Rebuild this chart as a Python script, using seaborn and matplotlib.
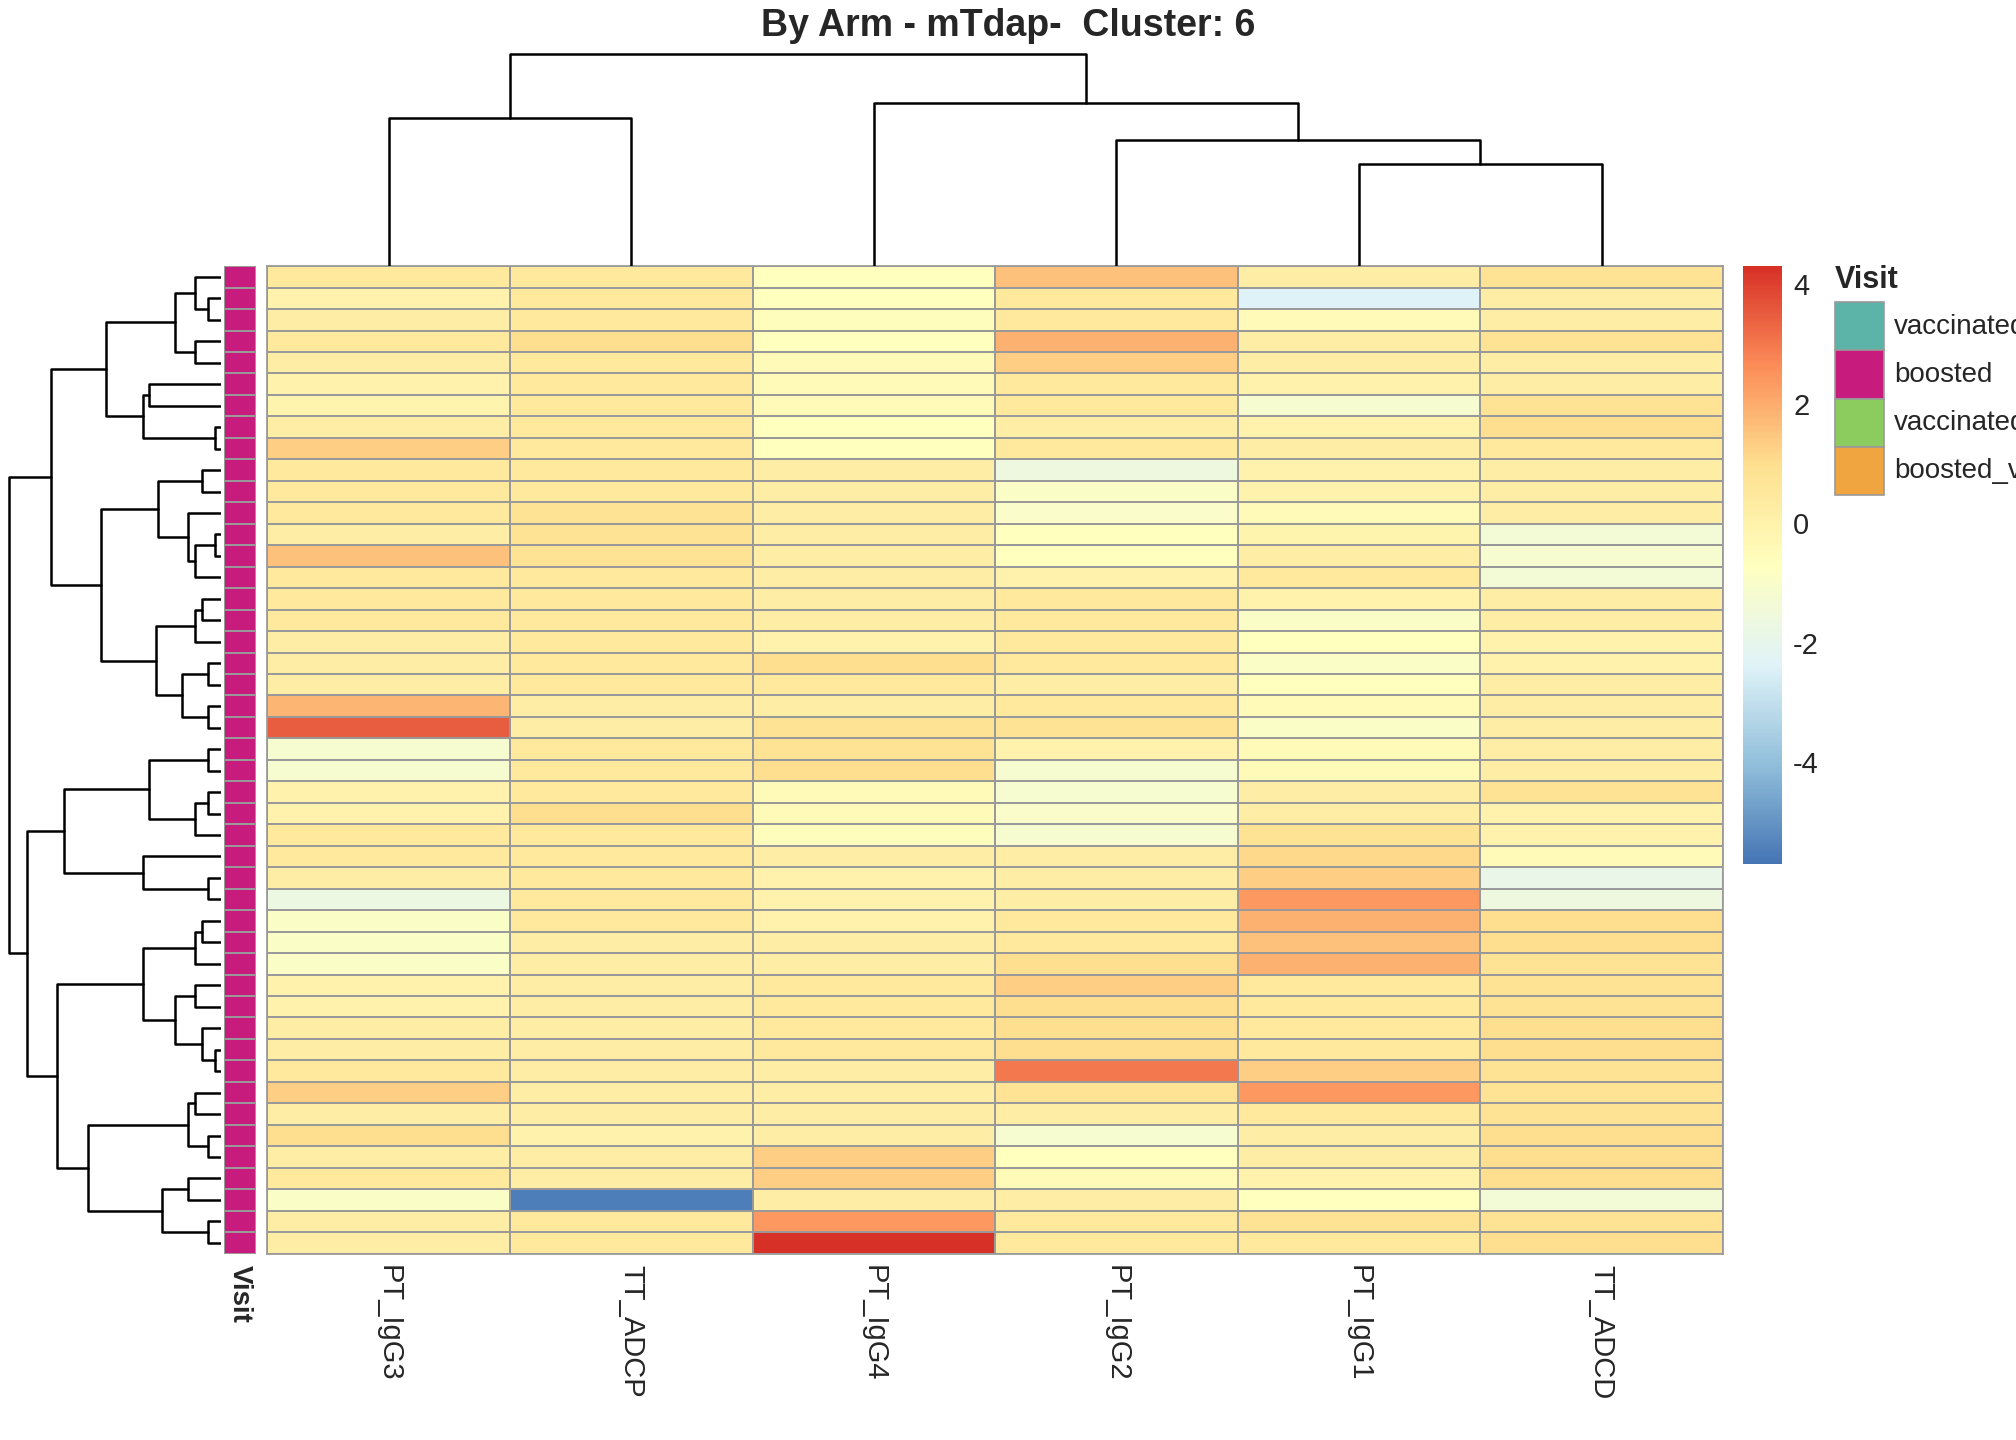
import numpy as np
import pandas as pd
import matplotlib
matplotlib.use("Agg")
import matplotlib.pyplot as plt
import seaborn as sns
from matplotlib.colors import ListedColormap, LinearSegmentedColormap

columns = ["PT_IgG3", "TT_ADCP", "PT_IgG4", "PT_IgG2", "PT_IgG1", "TT_ADCD"]
pt_igg3 = [0.5,0.0,0.2,0.5,0.2,0.0,-0.1,0.2,1.3,0.5,0.5,0.5,0.2,1.6,0.5,0.5,0.5,0.2,0.2,0.2,1.8,3.5,
           -1.2,-1.2,0.0,0.0,0.5,0.5,0.2,-1.7,-0.9,-0.9,-0.9,0.0,0.0,0.2,0.2,0.5,1.3,0.2,1.0,0.2,0.5,-0.9,0.2,0.2]
tt_adcp = [0.5,0.5,0.5,1.0,0.5,0.5,0.5,0.5,0.5,0.5,0.5,0.8,0.8,0.8,0.5,0.5,0.5,0.5,0.5,0.5,0.2,0.2,
           0.5,0.5,0.5,1.0,0.5,0.5,0.5,0.5,0.5,0.2,0.2,0.2,0.2,0.2,0.2,0.2,0.2,0.2,0.0,0.2,0.2,-5.5,0.5,0.5]
pt_igg4 = [-0.7,-0.7,-0.6,-0.7,-0.4,-0.4,-0.4,-0.7,-0.7,0.2,0.2,0.2,0.2,0.2,0.2,0.2,0.2,0.0,1.0,0.5,0.2,0.8,
           0.8,1.0,-0.4,-0.4,-0.6,0.2,0.0,0.0,0.0,0.2,0.2,0.5,0.5,0.5,0.5,0.2,0.2,0.2,0.2,1.3,1.3,0.2,2.4,4.3]
pt_igg2 = [1.6,0.5,0.5,1.9,1.3,0.5,0.5,0.2,0.5,-1.6,-0.9,-1.0,-0.7,-0.7,0.0,0.5,0.5,0.5,0.5,0.2,0.5,0.8,
           0.0,-1.2,-1.2,-1.0,-1.2,0.2,0.2,0.2,0.5,0.5,1.0,1.3,1.0,1.0,1.0,3.0,0.8,0.2,-1.2,-0.7,-0.4,0.2,0.5,0.5]
pt_igg1 = [0.2,-2.4,-0.4,0.2,0.2,0.0,-1.2,0.0,0.2,0.0,0.0,-0.4,-0.1,0.2,0.5,0.0,-0.9,-0.7,-0.9,-0.7,-0.4,-0.9,
           -0.4,-0.4,0.2,0.2,0.8,1.1,1.3,2.4,1.9,1.6,1.9,0.5,0.5,0.5,0.5,1.3,2.4,0.5,0.2,0.2,0.0,-0.7,0.8,0.5]
tt_adcd = [0.8,0.2,0.2,0.8,0.2,0.2,0.8,1.0,0.5,0.2,0.2,0.2,-1.4,-1.2,-1.4,0.2,0.2,0.0,0.0,0.2,0.2,0.2,
           0.2,0.2,0.8,0.0,0.0,-0.4,-1.9,-1.6,1.0,1.0,0.8,0.8,0.8,1.0,1.0,0.8,0.8,0.8,1.0,1.0,1.0,-1.4,0.8,1.0]

# column tree: [left, right, height]; leaves are column indices
col_tree = [[0, 1, 112], [2, [3, [4, 5, 77], 95], 123], 160]
# row tree
A1 = [[0, [1, 2, 10], 20], [3, 4, 20], 35]
A2 = [[5, 6, 55], [7, 8, 5], 60]
B1 = [[9, 10, 15], [11, [[12, 13, 5], 14, 20], 25], 48]
B2 = [[[15, 16, 15], 17, 20], [[18, 19, 10], [20, 21, 10], 30], 50]
C1 = [[22, 23, 10], [[24, 25, 10], 26, 20], 55]
C2 = [27, [28, 29, 10], 60]
E1 = [[[30, 31, 15], 32, 20], [[33, 34, 20], [35, [36, 37, 5], 15], 35], 60]
E2 = [[[38, 39, 20], [40, 41, 10], 25], [[42, 43, 25], [44, 45, 10], 45], 102]
row_tree = [[[A1, A2, 88], [B1, B2, 92], 130], [[C1, C2, 120], [E1, E2, 125], 148], 162]

visit_labels = ["vaccinated", "boosted", "vaccinated", "boosted_vaccinated"]
visit_colors = ["#5CB3A8", "#C71C7E", "#8CCB5E", "#F0A540"]

data = pd.DataFrame(dict(zip(columns, [pt_igg3, tt_adcp, pt_igg4, pt_igg2, pt_igg1, tt_adcd])))
n = len(data)

W, H = 1568.0, 1120.0
def ax_at(x0, y0, x1, y1):
    return fig.add_axes([x0 / W, 1 - y1 / H, (x1 - x0) / W, (y1 - y0) / H])

sns.set_theme(style="white")
plt.rcParams["font.family"] = ["Liberation Sans", "DejaVu Sans"]
fig = plt.figure(figsize=(20.16, 14.4), dpi=100)

cmap = LinearSegmentedColormap.from_list(
    "pal", ["#4575B4", "#91BFDB", "#E0F3F8", "#FFFFBF", "#FEE090", "#FC8D59", "#D73027"])
hax = ax_at(208, 207, 1340, 975)
cax = ax_at(1356, 207, 1386, 672)
sns.heatmap(data, ax=hax, cmap=cmap, vmin=-5.7, vmax=4.3, linewidths=1.2, linecolor="#999999",
            cbar_ax=cax, yticklabels=False)
hax.set_xticklabels(columns, rotation=-90, fontsize=21)
hax.tick_params(axis="x", length=0, pad=8)
for s in hax.spines.values():
    s.set_visible(True); s.set_color("#999999")
cbar = hax.collections[0].colorbar
cbar.outline.set_visible(False)
cbar.set_ticks([-4, -2, 0, 2, 4])
cbar.set_ticklabels(["-4", "-2", "0", "2", "4"])
cax.tick_params(length=0, labelsize=21, pad=8)

vax = ax_at(174, 207, 199, 975)
sns.heatmap(pd.DataFrame({"Visit": [1] * n}), ax=vax, cmap=ListedColormap([visit_colors[1]]),
            cbar=False, linewidths=1.2, linecolor="#999999", yticklabels=False)
vax.set_xticklabels(["Visit"], rotation=-90, fontsize=20, fontweight="bold")
vax.tick_params(axis="x", length=0, pad=8)

def draw(ax, node, horizontal):
    if not isinstance(node, list):
        return node + 0.5, 0
    lx, lh = draw(ax, node[0], horizontal)
    rx, rh = draw(ax, node[1], horizontal)
    h = node[2]
    xs, ys = [lx, lx, rx, rx], [lh, h, h, rh]
    if horizontal:
        ax.plot(ys, xs, color="black", lw=1.8)
    else:
        ax.plot(xs, ys, color="black", lw=1.8)
    return (lx + rx) / 2, h

dax = ax_at(208, 40, 1340, 207)
draw(dax, col_tree, False)
dax.set_xlim(0, 6); dax.set_ylim(0, 162); dax.axis("off")

rax = ax_at(5, 207, 172, 975)
draw(rax, row_tree, True)
rax.set_ylim(n, 0); rax.set_xlim(164, 0); rax.axis("off")

fig.text(1427 / W, 1 - 218 / H, "Visit", fontsize=22, fontweight="bold", va="center")
for i, (lab, c) in enumerate(zip(visit_labels, visit_colors)):
    y0 = 235 + i * 37.5
    fig.patches.append(plt.Rectangle((1427 / W, 1 - (y0 + 37.5) / H), 38 / W, 37.5 / H,
                                     transform=fig.transFigure, facecolor=c, edgecolor="#999999", lw=1.2))
    fig.text(1473 / W, 1 - (y0 + 19) / H, lab, fontsize=20, va="center")

fig.suptitle("By Arm - mTdap-  Cluster: 6", y=1 - 20 / H, va="center", fontsize=27, fontweight="bold")
fig.savefig("out.png", dpi=100)
